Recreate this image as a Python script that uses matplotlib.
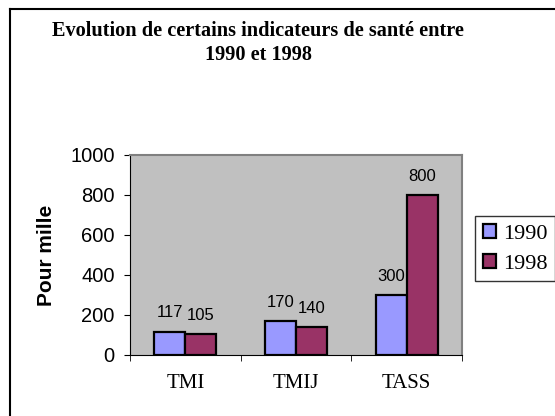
import numpy as np
import matplotlib
matplotlib.use("Agg")
import matplotlib.pyplot as plt
from matplotlib.patches import Patch
from matplotlib.lines import Line2D

# donnees
categories = ["TMI", "TMIJ", "TASS"]
series_names = ["1990", "1998"]
values_1990 = [117, 170, 300]
values_1998 = [105, 140, 800]

colors = ["#9999FF", "#993366"]
serif = ["Liberation Serif", "DejaVu Serif"]
sans = ["Liberation Sans", "DejaVu Sans"]

fig = plt.figure(figsize=(5.55, 4.16), dpi=100)
fig.patch.set_facecolor("white")
# cadre exterieur (seuls les bords gauche et haut sont visibles)
fig.add_artist(Line2D([10 / 555, 10 / 555], [0, 1 - 9 / 416], transform=fig.transFigure,
                      color="black", linewidth=1.5))
fig.add_artist(Line2D([10 / 555, 1], [1 - 9 / 416, 1 - 9 / 416], transform=fig.transFigure,
                      color="black", linewidth=1.5))

ax = fig.add_axes([130 / 555, 1 - 355 / 416, 332 / 555, 200 / 416])
ax.set_facecolor("#C0C0C0")

x = np.arange(len(categories))
w = 0.28
bars1 = ax.bar(x - w / 2, values_1990, w, color=colors[0], edgecolor="black", linewidth=1.6)
bars2 = ax.bar(x + w / 2, values_1998, w, color=colors[1], edgecolor="black", linewidth=1.6)

for bars, vals in ((bars1, values_1990), (bars2, values_1998)):
    for b, v in zip(bars, vals):
        ax.annotate(str(v), (b.get_x() + b.get_width() / 2, v), xytext=(0, 8),
                    textcoords="offset points", ha="center", va="bottom",
                    fontsize=12, family=sans)

ax.set_xlim(-0.5, len(categories) - 0.5)
ax.set_ylim(0, 1000)
ax.set_yticks(range(0, 1001, 200))
ax.set_yticklabels([str(v) for v in range(0, 1001, 200)], family=sans, fontsize=14.5)
ax.set_xticks(x)
ax.set_xticklabels(categories, family=serif, fontsize=15)
ax.tick_params(axis="x", length=0, pad=14)
ax.set_xticks(np.arange(-0.5, len(categories), 1), minor=True)
ax.tick_params(axis="x", which="minor", length=4, direction="out")
ax.tick_params(axis="y", length=4, direction="out", pad=7)
ax.spines["top"].set_color("#808080")
ax.spines["right"].set_color("#808080")
ax.spines["top"].set_linewidth(1.5)
ax.spines["right"].set_linewidth(1.5)
ax.set_ylabel("Pour mille", family=sans, fontsize=15, fontweight="bold", labelpad=10)

fig.text(258 / 555, 1 - 43 / 416, "Evolution de certains indicateurs de santé entre\n1990 et 1998",
         ha="center", va="center", family=serif, fontsize=14.6, fontweight="bold",
         linespacing=1.3)

handles = [Patch(facecolor=c, edgecolor="black", linewidth=1.6) for c in colors]
leg = fig.legend(handles, series_names, loc="upper left",
                 bbox_to_anchor=(475 / 555, 1 - 216 / 416),
                 prop={"family": serif, "size": 16}, frameon=True, fancybox=False,
                 handlelength=0.6, handleheight=0.6, handletextpad=0.3,
                 borderpad=0.35, labelspacing=0.45, borderaxespad=0)
leg.get_frame().set_edgecolor("black")
leg.get_frame().set_linewidth(1)

fig.savefig("out.png", dpi=100)
